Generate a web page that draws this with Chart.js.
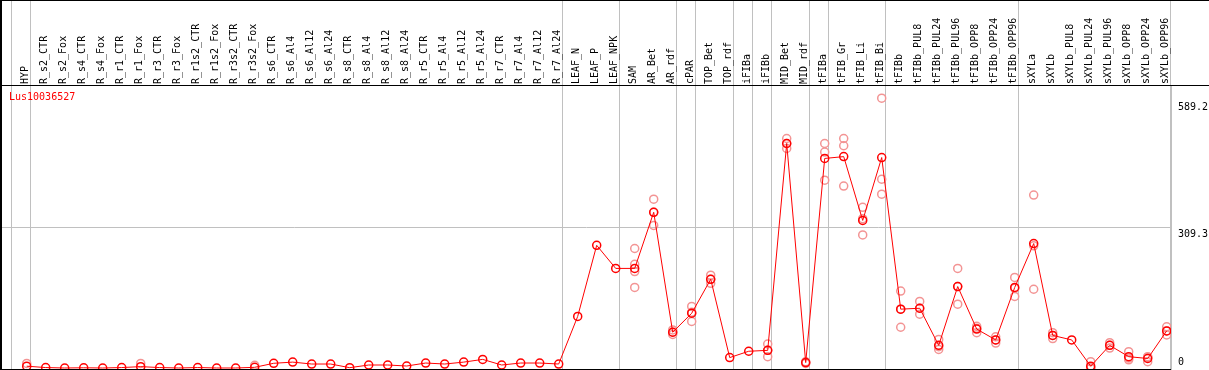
<!DOCTYPE html>
<html>
<head>
<meta charset="utf-8">
<script src="https://cdn.jsdelivr.net/npm/chart.js@4.4.0/dist/chart.umd.min.js"></script>
<style>
  html, body { margin: 0; padding: 0; background: #fff; }
  #wrap { position: relative; width: 1209px; height: 370px; overflow: hidden; }
  #wrap canvas { position: absolute; left: 0; top: 0; }
  .rule { position: absolute; background: #000; }
  #gene { position: absolute; left: 9px; top: 91px; color: #f00; font: 10px "DejaVu Sans Mono", monospace; line-height: 11px; }
</style>
</head>
<body>
<div id="wrap">
  <canvas id="expr" width="1209" height="370"></canvas>
  <div class="rule" style="left:0;top:0;width:1209px;height:1px"></div>
  <div class="rule" style="left:0;top:0;width:2px;height:370px"></div>
  <div class="rule" style="left:0;top:85px;width:1209px;height:1px"></div>
  <div class="rule" style="left:0;top:369px;width:1171px;height:1px"></div>
  <div id="gene">Lus10036527</div>
</div>
<script>
// samples, in the order of the columns
const categories = [
  "HYP", "R_s2_CTR", "R_s2_Fox", "R_s4_CTR", "R_s4_Fox", "R_r1_CTR", "R_r1_Fox",
  "R_r3_CTR", "R_r3_Fox", "R_r1s2_CTR", "R_r1s2_Fox", "R_r3s2_CTR", "R_r3s2_Fox",
  "R_s6_CTR", "R_s6_Al4", "R_s6_Al12", "R_s6_Al24", "R_s8_CTR", "R_s8_Al4", "R_s8_Al12",
  "R_s8_Al24", "R_r5_CTR", "R_r5_Al4", "R_r5_Al12", "R_r5_Al24", "R_r7_CTR", "R_r7_Al4",
  "R_r7_Al12", "R_r7_Al24", "LEAF_N", "LEAF_P", "LEAF_NPK", "SAM", "AR_Bet", "AR_rdf",
  "cPAR", "TOP_Bet", "TOP_rdf", "iFIBa", "iFIBb", "MID_Bet", "MID_rdf", "tFIBa",
  "tFIB_Gr", "tFIB_Li", "tFIB_Bi", "tFIBb", "tFIBb_PUL8", "tFIBb_PUL24", "tFIBb_PUL96",
  "tFIBb_OPP8", "tFIBb_OPP24", "tFIBb_OPP96", "sXYLa", "sXYLb", "sXYLb_PUL8",
  "sXYLb_PUL24", "sXYLb_PUL96", "sXYLb_OPP8", "sXYLb_OPP24", "sXYLb_OPP96"
];

// mean expression per sample
const means = [
  4, 1, 0, 0.5, 0, 1, 3, 1, 0, 1, 0, 0, 1.5,
  10.4, 13, 8.8, 8.8, 0.7, 6.6, 6.6, 4.4, 11, 8.8, 13, 19, 6.6, 11, 11, 8.8,
  114, 271, 220, 220, 344, 79, 121, 196, 23, 37, 39, 496, 12,
  463, 467, 326, 465, 130, 132, 50, 180, 86, 62, 178,
  275, 72, 62, 4, 50, 25, 21, 82
];

// individual replicates (only where they show)
const replicates = [
  [10], [], [], [], [], [], [10], [], [], [], [], [], [6],
  [], [], [], [], [], [], [], [], [], [], [], [], [], [], [], [],
  [], [], [], [264, 229, 213, 178], [373, 344, 315], [84, 79, 74], [136, 123, 103],
  [205, 196, 187], [], [], [53, 39, 25], [507, 496, 485], [14, 10],
  [496, 477, 415], [507, 491, 402], [355, 330, 294], [596, 417, 384],
  [170, 130, 90], [147, 132, 119], [63, 47, 41], [220, 180, 141],
  [92, 88, 78], [69, 62, 55], [200, 176, 158],
  [382, 270, 174], [78, 72, 65], [], [14, 0, 0], [56, 50, 44],
  [36, 22, 18], [25, 24, 14], [91, 82, 73]
];

// group separators sit just after these columns
const separatorAfter = [-1, 0, 28, 31, 34, 35, 37, 38, 39, 41, 42, 45, 52, 60];

const yTickValues = [0, 309.3, 589.2];
const yTickLabels = ["0", "309.3", "589.2"];

const lineData = means.map((v, i) => ({ x: i, y: v }));
const repData = [];
replicates.forEach((list, i) => list.forEach(v => repData.push({ x: i, y: v })));

const monoFont = { family: '"DejaVu Sans Mono", monospace', size: 10 };
const gridGrey = "#c0c0c0";
const sepColor = c => (c.tick && c.tick.sep ? gridGrey : "rgba(0,0,0,0)");

new Chart(document.getElementById("expr"), {
  type: "line",
  data: {
    datasets: [
      {
        label: "mean",
        data: lineData,
        borderColor: "#ff0000",
        borderWidth: 1,
        tension: 0,
        pointRadius: 4,
        pointBorderWidth: 1.5,
        pointBorderColor: "#ff0000",
        pointBackgroundColor: "rgba(0,0,0,0)",
        order: 0
      },
      {
        label: "replicates",
        data: repData,
        showLine: false,
        pointRadius: 4,
        pointBorderWidth: 1.5,
        pointBorderColor: "#f39494",
        pointBackgroundColor: "rgba(0,0,0,0)",
        order: 1
      }
    ]
  },
  options: {
    responsive: false,
    animation: false,
    devicePixelRatio: 1,
    layout: { autoPadding: false, padding: { top: 1, left: 2, right: 0, bottom: 1 } },
    plugins: { legend: { display: false }, tooltip: { enabled: false } },
    scales: {
      x: {
        type: "linear",
        position: "top",
        bounds: "data",
        min: -1.3,
        max: 60.226,
        afterBuildTicks: axis => {
          const t = categories.map((c, i) => ({ value: i }));
          separatorAfter.forEach(i => t.push({ value: i + 0.184, sep: true }));
          axis.ticks = t;
        },
        afterFit: axis => {
          axis.height = 85;
          axis.paddingLeft = 0;
          axis.paddingRight = 0;
        },
        grid: { color: sepColor, tickColor: sepColor, tickLength: 85, lineWidth: 1 },
        border: { display: false },
        ticks: {
          autoSkip: false,
          minRotation: 90,
          maxRotation: 90,
          padding: -83,
          labelOffset: 11,
          font: monoFont,
          color: "#000",
          callback: (v, i, ticks) => (ticks[i].sep ? "" : categories[v])
        }
      },
      y: {
        position: "right",
        min: -2.21,
        max: 623,
        afterBuildTicks: axis => { axis.ticks = yTickValues.map(v => ({ value: v })); },
        afterFit: axis => {
          axis.width = 38;
          axis.paddingTop = 0;
          axis.paddingBottom = 0;
        },
        grid: { color: c => (c.index === 1 ? gridGrey : "rgba(0,0,0,0)"), drawTicks: false },
        border: { display: true, color: gridGrey },
        ticks: {
          padding: 7,
          font: monoFont,
          color: "#000",
          callback: (v, i) => (i === 0 ? [yTickLabels[i], ""] : ["", yTickLabels[i]])
        }
      }
    }
  }
});
</script>
</body>
</html>
